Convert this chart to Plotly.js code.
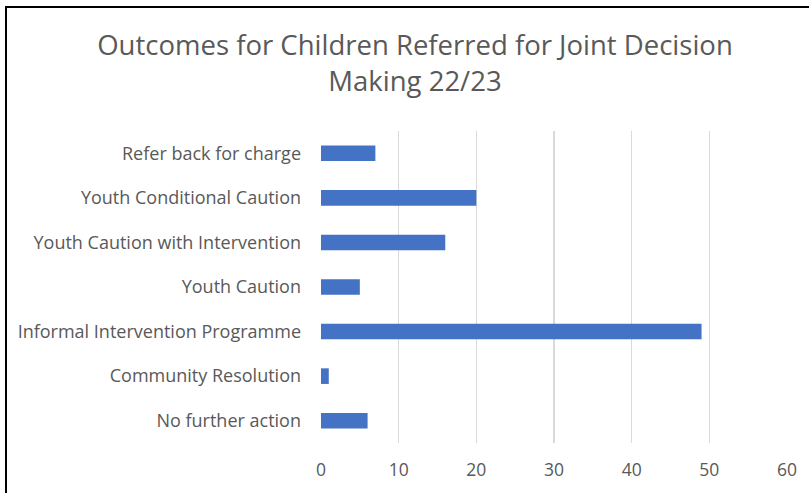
<!DOCTYPE html>
<html>
<head>
<meta charset="utf-8">
<script src="https://cdn.plot.ly/plotly-3.0.1.min.js"></script>
<style>
html,body{margin:0;padding:0;background:#fff;}
#wrap{position:relative;width:809px;height:493px;overflow:hidden;}
#chart{position:absolute;left:0;top:0;width:809px;height:493px;}
#frame{position:absolute;left:5px;top:6px;width:830px;height:520px;border-left:2px solid #000;border-top:2px solid #000;pointer-events:none;box-sizing:border-box;}
</style>
</head>
<body>
<div id="wrap"><div id="chart"></div><div id="frame"></div></div>
<script>
const categories = ["No further action","Community Resolution","Informal Intervention Programme","Youth Caution","Youth Caution with Intervention","Youth Conditional Caution","Refer back for charge"];
const values = [6,1,49,5,16,20,7];
const xTicks = [0,10,20,30,40,50,60];
const titleText = "Outcomes for Children Referred for Joint Decision<br>Making 22/23";

const trace = {
  type:'bar', orientation:'h', y:categories, x:values,
  marker:{color:'#4472C4'}, hoverinfo:'x+y'
};
const layout = {
  width:809, height:493,
  margin:{l:321,r:22,t:131,b:50,pad:0},
  paper_bgcolor:'#fff', plot_bgcolor:'#fff',
  font:{family:'"Open Sans", sans-serif',color:'#595959',size:17.5},
  title:{text:titleText, x:415/809, xref:'container', xanchor:'center', y:1-55/493, yref:'container', yanchor:'top', font:{size:27.5,color:'#595959'}},
  bargap:0.65,
  showlegend:false,
  xaxis:{range:[0,60], tickvals:xTicks, ticktext:xTicks.map(String), showgrid:true, gridcolor:'#d9d9d9', gridwidth:1.3, zeroline:false, showline:false, ticks:'', ticklabelstandoff:14, fixedrange:true},
  yaxis:{type:'category', categoryarray:categories, showgrid:false, zeroline:false, showline:false, ticks:'', ticklabelstandoff:19, fixedrange:true, tickfont:{size:18}}
};
Plotly.newPlot('chart',[trace],layout,{displayModeBar:false,staticPlot:true});
</script>
</body>
</html>
